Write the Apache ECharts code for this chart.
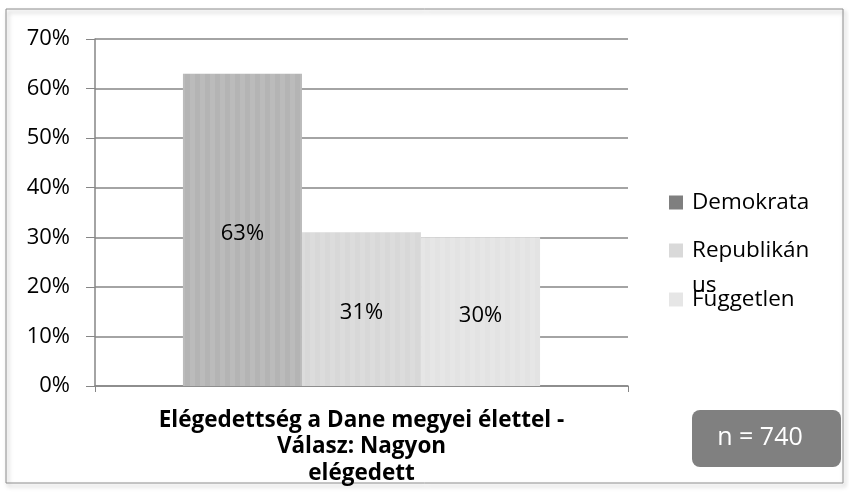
<!DOCTYPE html>
<html>
<head>
<meta charset="utf-8">
<script src="https://cdn.jsdelivr.net/npm/echarts@6/dist/echarts.min.js"></script>
<style>
	html, body { margin: 0; padding: 0; background: #fff; }
	#chart { width: 849px; height: 496px; }
</style>
</head>
<body>
<div id="chart"></div>
<script>
const categories = ['Elégedettség a Dane megyei élettel -\nVálasz: Nagyon\nelégedett']
const seriesNames = ['Demokrata', 'Republikánus', 'Független']
const seriesValues = [[0.63], [0.31], [0.30]]
const barColors = ['#b4b4b4', '#d8d8d8', '#e3e3e3']
const legendColors = ['#7f7f7f', '#d9d9d9', '#e6e6e6']
const legendLabels = ['Demokrata', '\nRepublikán\nus', 'Független']
const yTicks = [0, 0.1, 0.2, 0.3, 0.4, 0.5, 0.6, 0.7]
const sampleSize = 'n = 740'

const font = '"Open Sans", sans-serif'

chart = () => {
	var myChart = echarts.init(document.getElementById('chart'))

	// one legend per item, so the wrapped name can overlap like the original
	const legendTops = [180, 193, 277]
	const legends = seriesNames.map((name, i) => {
		return {
			data: [{ name: name, itemStyle: { color: legendColors[i], decal: 'none' } }],
			orient: 'vertical',
			left: 664,
			top: legendTops[i],
			itemWidth: 14,
			itemHeight: 14,
			icon: 'rect',
			formatter: () => legendLabels[i],
			textStyle: { fontFamily: font, fontSize: 22.5, color: '#000', lineHeight: 35, padding: [0, 0, 0, 4] },
			selectedMode: false,
		}
	})

	const series = seriesNames.map((name, i) => {
		return {
			name: name,
			type: 'bar',
			barGap: '0%',
			barCategoryGap: '33%',
			data: seriesValues[i],
			itemStyle: {
				color: barColors[i],
				decal: {
					symbol: 'rect',
					symbolSize: 1,
					dashArrayX: [5, 5],
					dashArrayY: [1, 0],
					rotation: 0,
					color: 'rgba(255,255,255,0.09)',
				},
			},
			label: {
				show: true,
				position: 'inside',
				offset: [0, 4],
				formatter: (p) => Math.round(p.value * 100) + '%',
				fontFamily: font,
				fontSize: 22,
				color: '#000',
			},
		}
	})

	const option = {
		animation: false,
		grid: { left: 95, right: 221, top: 39, bottom: 110, containLabel: false },
		legend: legends,
		xAxis: {
			type: 'category',
			data: categories,
			axisLine: { lineStyle: { color: '#868686', width: 1.5 } },
			axisTick: { show: true, length: 6, lineStyle: { color: '#868686' } },
			axisLabel: {
				fontFamily: font,
				fontSize: 22.5,
				fontWeight: 'bold',
				color: '#000',
				lineHeight: 26.5,
				margin: 21,
			},
		},
		yAxis: {
			type: 'value',
			min: 0,
			max: 0.7,
			interval: 0.1,
			axisLine: { show: true, lineStyle: { color: '#868686', width: 1.5 } },
			axisTick: { show: true, length: 9, lineStyle: { color: '#868686' } },
			splitLine: { lineStyle: { color: '#868686', width: 1.5 } },
			axisLabel: {
				fontFamily: font,
				fontSize: 22,
				color: '#000',
				margin: 25,
				formatter: (v) => {
					const t = yTicks.find((x) => Math.abs(x - v) < 1e-9)
					return Math.round((t === undefined ? v : t) * 100) + '%'
				},
			},
		},
		graphic: [
			{
				type: 'rect',
				shape: { x: 6, y: 9, width: 837, height: 474 },
				style: {
					fill: 'none',
					stroke: '#8c8c8c',
					lineWidth: 1,
					shadowBlur: 4,
					shadowOffsetX: 2,
					shadowOffsetY: 3,
					shadowColor: 'rgba(0,0,0,0.35)',
				},
				silent: true,
				z: -10,
			},
			{
				type: 'rect',
				shape: { x: 692, y: 410, width: 149, height: 57, r: 8 },
				style: { fill: '#808080' },
				silent: true,
				z: 10,
			},
			{
				type: 'text',
				x: 760,
				y: 438,
				style: {
					text: sampleSize,
					fill: '#fff',
					font: '25px ' + font,
					align: 'center',
					verticalAlign: 'middle',
				},
				silent: true,
				z: 11,
			},
		],
		series: series,
	}

	myChart.setOption(option)
}

chart()
</script>
</body>
</html>
